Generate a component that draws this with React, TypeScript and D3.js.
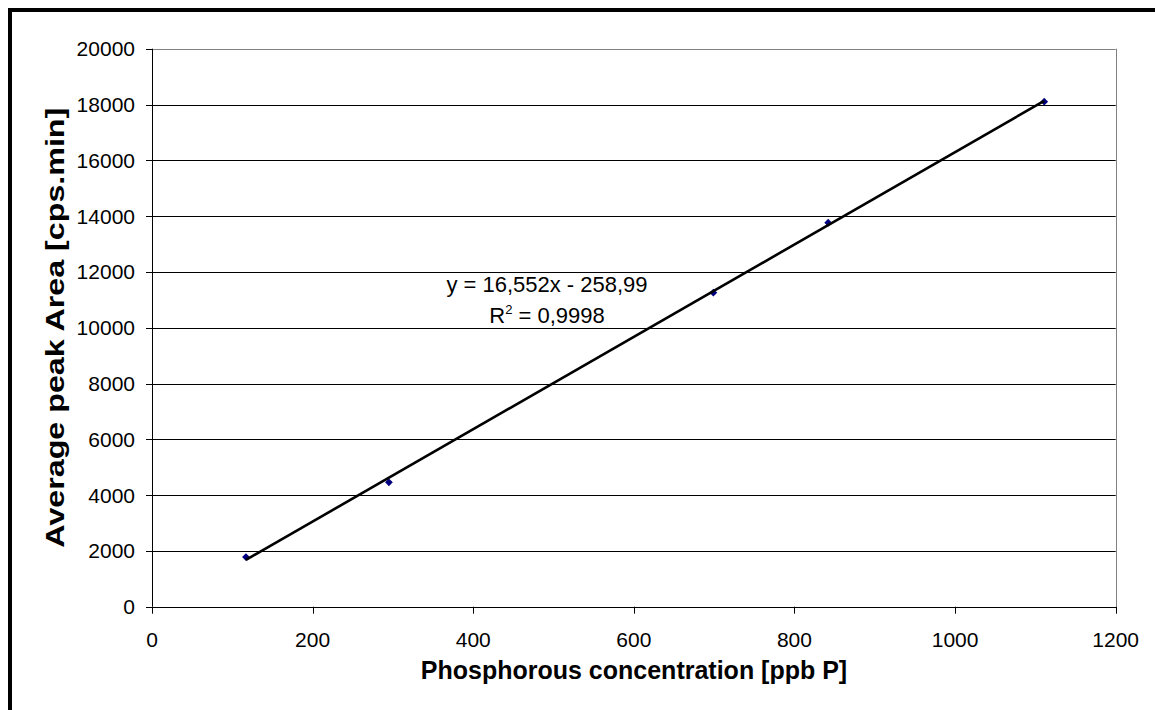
import React from "react";
import * as d3 from "d3";

const concentrations = [117, 295, 699, 842, 1111];
const peakAreas = [1781, 4460, 11254, 13762, 18100];
const xTicks = [0, 200, 400, 600, 800, 1000, 1200];
const yTicks = [0, 2000, 4000, 6000, 8000, 10000, 12000, 14000, 16000, 18000, 20000];
const slope = 16.552;
const intercept = -258.99;
const eqLine1 = "y = 16,552x - 258,99";
const eqR2 = "0,9998";
const xTitle = "Phosphorous concentration [ppb P]";
const yTitle = "Average peak Area [cps.min]";

const W = 1155;
const H = 710;
const L = 152, R = 1115.7, T = 48.7, B = 606.7;
const FONT = "'Liberation Sans', Arial, sans-serif";

export default function App() {
  const x = d3.scaleLinear().domain([0, 1200]).range([L, R]);
  const y = d3.scaleLinear().domain([0, 20000]).range([B, T]);
  const xMin = d3.min(concentrations)!;
  const xMax = d3.max(concentrations)!;
  const trend = d3.line<number>().x((d) => x(d)).y((d) => y(slope * d + intercept));
  const marker = d3.symbol().type(d3.symbolSquare).size(30)();
  const r = (v: number) => Math.round(v) + 0.5;

  return (
    <svg width={W} height={H} style={{ position: "absolute", left: 0, top: 0 }}>
      <rect x={10} y={10} width={1300} height={900} fill="#fff" stroke="#000" strokeWidth={4} />
      {yTicks.slice(1, -1).map((t) => (
        <line key={"g" + t} x1={L} x2={R} y1={r(y(t))} y2={r(y(t))} stroke="#000" strokeWidth={1} />
      ))}
      <line x1={L} x2={R} y1={r(T)} y2={r(T)} stroke="#808080" strokeWidth={1} />
      <line x1={r(R)} x2={r(R)} y1={T} y2={B} stroke="#808080" strokeWidth={1} />
      <line x1={r(L)} x2={r(L)} y1={T} y2={B} stroke="#000" strokeWidth={1} />
      <line x1={L} x2={R + 0.5} y1={r(B)} y2={r(B)} stroke="#000" strokeWidth={1} />
      {yTicks.map((t) => (
        <g key={"y" + t}>
          <line x1={L - 6} x2={L} y1={r(y(t))} y2={r(y(t))} stroke="#000" strokeWidth={1} />
          <text x={135} y={y(t)} dy="0.36em" textAnchor="end" fontFamily={FONT} fontSize={21} fill="#000">
            {t}
          </text>
        </g>
      ))}
      {xTicks.map((t) => (
        <g key={"x" + t}>
          <line x1={r(x(t))} x2={r(x(t))} y1={B} y2={B + 7} stroke="#000" strokeWidth={1} />
          <text x={x(t)} y={647} textAnchor="middle" fontFamily={FONT} fontSize={21} fill="#000">
            {t}
          </text>
        </g>
      ))}
      {concentrations.map((c, i) => (
        <path
          key={"m" + i}
          d={marker!}
          transform={`translate(${x(c)},${y(peakAreas[i])}) rotate(45)`}
          fill="#000080"
        />
      ))}
      <path d={trend([xMin, xMax])!} stroke="#000" strokeWidth={2.6} fill="none" />
      <text x={547} y={292} textAnchor="middle" fontFamily={FONT} fontSize={22} fill="#000">
        {eqLine1}
      </text>
      <text x={547} y={323} textAnchor="middle" fontFamily={FONT} fontSize={22} fill="#000">
        R<tspan fontSize={13} dy={-9}>2</tspan>
        <tspan dy={9}>{" = " + eqR2}</tspan>
      </text>
      <text x={634} y={679} textAnchor="middle" fontFamily={FONT} fontSize={25} fontWeight="bold" fill="#000">
        {xTitle}
      </text>
      <text
        transform={`translate(64,${(T + B) / 2}) rotate(-90)`}
        textAnchor="middle"
        fontFamily={FONT}
        fontSize={25}
        fontWeight="bold"
        textLength={440}
        lengthAdjust="spacingAndGlyphs"
        fill="#000"
      >
        {yTitle}
      </text>
    </svg>
  );
}
